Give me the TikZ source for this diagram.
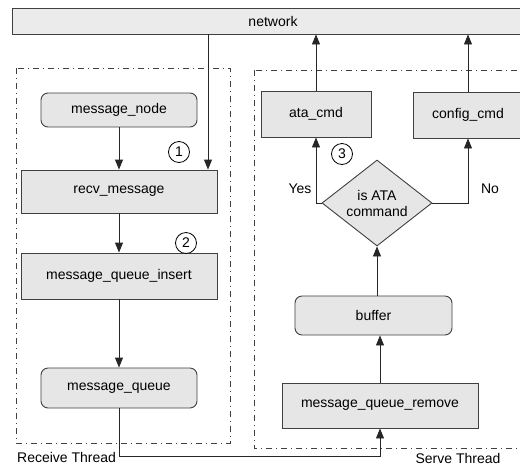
\documentclass[tikz,border=0pt]{standalone}
\usepackage{fontspec}
\setmainfont{Liberation Sans}
\usetikzlibrary{arrows.meta,shapes.geometric,calc}
\definecolor{boxfill}{HTML}{E6E6E6}
\definecolor{netfill}{HTML}{EBEBEB}
\definecolor{edge}{HTML}{404040}
\definecolor{framec}{HTML}{404040}
\tikzset{
  every node/.style={font=\fontsize{14}{16}\selectfont, inner sep=0pt},
  box/.style={draw=edge, fill=boxfill, line width=0.9pt, rectangle},
  store/.style={draw=edge, fill=boxfill, line width=0.9pt, rectangle, rounded corners=7pt},
  decision/.style={draw=edge, fill=boxfill, line width=0.9pt, diamond, aspect=1.28,
    minimum width=110pt, minimum height=86pt, align=center},
  num/.style={draw=black, circle, line width=0.8pt, minimum size=21pt, fill=white},
  frame/.style={draw=framec, line width=0.8pt, dash pattern=on 6pt off 4pt on 1pt off 4pt},
  arr/.style={draw=black!85, line width=0.9pt, -{Triangle[length=10pt,width=8pt]}},
  lbl/.style={},
}
\begin{document}
\begin{tikzpicture}[x=1pt,y=-1pt]
  \clip (0,0) rectangle (520,467);
  \fill[white] (0,0) rectangle (520,467);

  % thread frames
  \draw[frame] (16,68) rectangle (230,443);
  \draw[frame] (254,70) rectangle (540,448);

  % network bar
  \node[box, fill=netfill, minimum width=522pt, minimum height=26pt] (net) at (273,21) {network};

  % receive thread
  \node[store, minimum width=156pt, minimum height=34pt] (mnode) at (119,110) {message\_node};
  \node[box, minimum width=196pt, minimum height=43pt] (recv) at (119,191.5) {recv\_message};
  \node[box, minimum width=196pt, minimum height=46pt] (mqi) at (119,276) {message\_queue\_insert};
  \node[store, minimum width=156pt, minimum height=40pt] (mq) at (119,388) {message\_queue};

  % serve thread
  \node[box, minimum width=110pt, minimum height=46pt] (ata) at (316,114) {ata\_cmd};
  \node[box, minimum width=110pt, minimum height=46pt] (cfg) at (468,115) {config\_cmd};
  \node[decision] (dec) at (377,203) {is ATA\\command};
  \node[store, minimum width=157pt, minimum height=39pt] (buf) at (373.5,315.5) {buffer};
  \node[box, minimum width=196pt, minimum height=45pt] (mqr) at (380,405.5) {message\_queue\_remove};

  % step markers
  \node[num] (c1) at (179,152) {1};
  \node[num] (c2) at (186,243) {2};
  \node[num] (c3) at (342,154) {3};

  % receive path
  \draw[arr] (mnode.south) -- (mnode.south |- recv.north);
  \coordinate (netdrop) at (208,34);
  \draw[arr] (net.south -| netdrop) -- (recv.north -| netdrop);
  \draw[arr] (recv.south) -- (mqi.north);
  \draw[arr] (mqi.south) -- (mq.north);

  % hand-over between threads
  \coordinate (turn) at (119,456);
  \draw[arr] (mq.south) -- (turn) -| (mqr.south);

  % serve path
  \draw[arr] (mqr.north) -- (mqr.north |- buf.south);
  \draw[arr] (buf.north -| dec.south) -- (dec.south);
  \draw[arr] (dec.west) -| (ata.south);
  \draw[arr] (dec.east) -| (cfg.south);
  \draw[arr] (ata.north) -- (ata.north |- net.south);
  \draw[arr] (cfg.north) -- (cfg.north |- net.south);

  % labels
  \node[lbl] (yes) at (300,189) {Yes};
  \node[lbl] (no) at (490,189) {No};
  \node[lbl, anchor=west] (rt) at (17,457) {Receive Thread};
  \node[lbl] (st) at (458,458) {Serve Thread};
\end{tikzpicture}
\end{document}
